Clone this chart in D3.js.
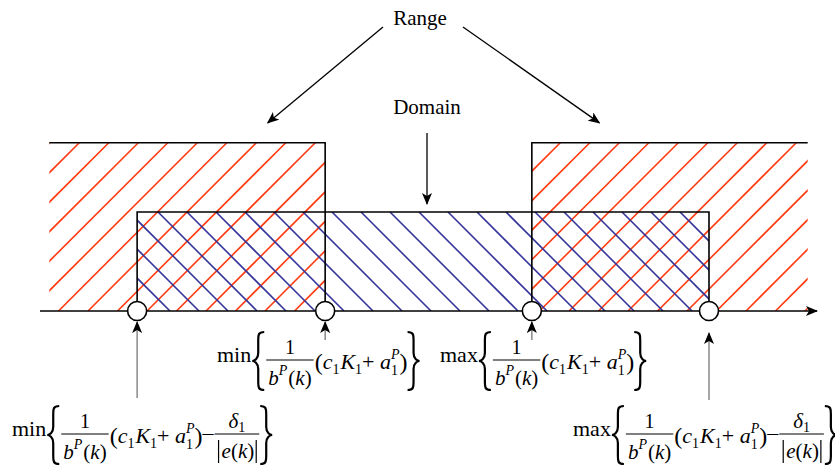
<!DOCTYPE html>
<html>
<head>
<meta charset="utf-8">
<script src="https://cdn.jsdelivr.net/npm/d3@7"></script>
<style>
body { margin: 0; background: #fff; }
svg { display: block; font-family: "Liberation Serif", "Times New Roman", serif; }
</style>
</head>
<body>
<div id="chart"></div>
<script>
// positions along the axis (axis runs 0..100)
var bounds = [12.5, 36.7, 63.3, 86.1];      // the four circled end points
var rangeLeft = [1.2, 36.7];
var rangeRight = [63.3, 98.8];
var domainBox = [12.5, 86.1];
// heights (axis = 0, domain box top = 1, range boxes top = 1.7)
var domainTop = 1;
var rangeTop = 1.7;
var titles = ["Range", "Domain"];
var ops = ["min", "min", "max", "max"];
var withDelta = [true, false, false, true];

function init(){
    var w = 835, h = 467;
    var x = d3.scaleLinear().domain([0, 100]).range([40, 817]);
    var y = d3.scaleLinear().domain([0, 1]).range([311, 212]);

    var svg = d3.select("#chart").append("svg")
        .attr("width", w).attr("height", h);

    var defs = svg.append("defs");
    defs.append("marker").attr("id", "head")
        .attr("viewBox", "0 0 12 10").attr("refX", 11).attr("refY", 5)
        .attr("markerWidth", 12).attr("markerHeight", 10)
        .attr("markerUnits", "userSpaceOnUse").attr("orient", "auto")
        .append("path").attr("d", "M0,0 L12,5 L0,10 L3,5 Z").attr("fill", "#000");

    // hatch one box, clipped
    function hatch(id, x0, x1, yTop, color, rising, phase, step){
        var px0 = x(x0), px1 = x(x1), pt = y(yTop), pb = y(0);
        defs.append("clipPath").attr("id", id).append("rect")
            .attr("x", px0).attr("y", pt).attr("width", px1 - px0).attr("height", pb - pt);
        var lo, hi;
        if (rising) { lo = px0 + pt; hi = px1 + pb; }
        else { lo = px0 - pb; hi = px1 - pt; }
        var k0 = Math.floor((lo - phase) / step);
        var cs = d3.range(k0, Math.ceil((hi - phase) / step) + 1).map(function(k){ return phase + k * step; });
        svg.append("g").attr("clip-path", "url(#" + id + ")")
            .selectAll("line").data(cs).enter().append("line")
            .attr("x1", function(c){ return rising ? c - pb : c + pb; })
            .attr("y1", pb)
            .attr("x2", function(c){ return rising ? c - pt : c + pt; })
            .attr("y2", pt)
            .attr("stroke", color).attr("stroke-width", 1.6);
    }

    hatch("cl1", rangeLeft[0], rangeLeft[1], rangeTop, "#ff3a10", true, 222, 29.5);
    hatch("cl2", rangeRight[0], rangeRight[1], rangeTop, "#ff3a10", true, 703, 29.5);
    hatch("cl3", domainBox[0], domainBox[1], domainTop, "#34349a", false, -54, 29);

    var ink = svg.append("g").attr("stroke", "#000").attr("stroke-width", 1.6).attr("fill", "none");
    // left range box (open on the left)
    ink.append("polyline").attr("points", [[x(rangeLeft[0]), y(rangeTop)], [x(rangeLeft[1]), y(rangeTop)], [x(rangeLeft[1]), y(0)]].join(" "));
    // right range box (open on the right)
    ink.append("polyline").attr("points", [[x(rangeRight[0]), y(0)], [x(rangeRight[0]), y(rangeTop)], [x(rangeRight[1]), y(rangeTop)]].join(" "));
    // domain box
    ink.append("polyline").attr("points", [[x(domainBox[0]), y(0)], [x(domainBox[0]), y(domainTop)], [x(domainBox[1]), y(domainTop)], [x(domainBox[1]), y(0)]].join(" "));
    // axis
    ink.append("line").attr("x1", x(0)).attr("x2", x(100)).attr("y1", y(0)).attr("y2", y(0))
        .attr("marker-end", "url(#head)");

    svg.selectAll("circle").data(bounds).enter().append("circle")
        .attr("cx", function(d){ return x(d); }).attr("cy", y(0)).attr("r", 9.5)
        .attr("fill", "#fff").attr("stroke", "#000").attr("stroke-width", 1.6);

    // titles and their arrows
    svg.append("text").attr("x", 420).attr("y", 25).attr("text-anchor", "middle")
        .attr("font-size", 21).text(titles[0]);
    svg.append("text").attr("x", 427).attr("y", 114).attr("text-anchor", "middle")
        .attr("font-size", 21).text(titles[1]);
    var arr = svg.append("g").attr("stroke", "#000").attr("stroke-width", 1.3);
    arr.append("line").attr("x1", 383).attr("y1", 27).attr("x2", x(29.3)).attr("y2", y(1.9)).attr("marker-end", "url(#head)");
    arr.append("line").attr("x1", 463).attr("y1", 27).attr("x2", x(72)).attr("y2", y(1.9)).attr("marker-end", "url(#head)");
    arr.append("line").attr("x1", 427).attr("y1", 133).attr("x2", 427).attr("y2", y(domainTop) - 8).attr("marker-end", "url(#head)");

    // arrows from the formulas up to the circles
    var fromY = [398, 340, 340, 400];
    var toY = [322, 322, 322, 333];
    svg.selectAll(".up").data(bounds).enter().append("line").attr("class", "up")
        .attr("x1", function(d){ return x(d); }).attr("x2", function(d){ return x(d); })
        .attr("y1", function(d, i){ return fromY[i]; }).attr("y2", function(d, i){ return toY[i]; })
        .attr("stroke", "#888").attr("stroke-width", 1.5).attr("marker-end", "url(#head)");

    // formulas
    function put(g, px, py, s, size, italic){
        var t = g.append("text").attr("x", px).attr("y", py).attr("font-size", size)
            .attr("font-style", italic ? "italic" : null).text(s);
        return t.node().getComputedTextLength();
    }
    function brace(g, px, yc, hh, left){
        var bw = 6, t = yc - hh / 2, b = yc + hh / 2, s = left ? 1 : -1;
        var xo = left ? px + bw * 2 : px, xm = xo - s * bw, xt = xo - s * bw * 2;
        var d = "M" + xo + "," + t +
            " C" + xm + "," + t + " " + xm + "," + (t + 3) + " " + xm + "," + (t + 8) +
            " L" + xm + "," + (yc - 8) +
            " C" + xm + "," + (yc - 2) + " " + (xt + s * 2) + "," + yc + " " + xt + "," + yc +
            " C" + (xt + s * 2) + "," + yc + " " + xm + "," + (yc + 2) + " " + xm + "," + (yc + 8) +
            " L" + xm + "," + (b - 8) +
            " C" + xm + "," + (b - 3) + " " + xm + "," + b + " " + xo + "," + b;
        g.append("path").attr("d", d).attr("fill", "none").attr("stroke", "#000").attr("stroke-width", 2.2);
        return bw * 2 + 2;
    }
    function formula(op, x0, yb, delta){
        var g = svg.append("g").attr("fill", "#000");
        var cx = x0, big = 22, sm = 14;
        cx += put(g, cx, yb + 2, op, big, false) + 1;
        cx += brace(g, cx, yb + 1, 58, true);
        // 1 / b^P(k)
        var dx = cx + 2;
        dx += put(g, dx, yb + 25, "b", 21, true);
        dx += put(g, dx, yb + 15, "P", sm, true) + 1;
        dx += put(g, dx, yb + 25, "(", 21, false);
        dx += put(g, dx, yb + 25, "k", 21, true);
        dx += put(g, dx, yb + 25, ")", 21, false);
        var bw = dx - cx + 2;
        g.append("line").attr("x1", cx).attr("x2", cx + bw).attr("y1", yb).attr("y2", yb)
            .attr("stroke", "#000").attr("stroke-width", 1.2);
        g.append("text").attr("x", cx + bw / 2).attr("y", yb - 6).attr("font-size", 20)
            .attr("text-anchor", "middle").text("1");
        cx += bw + 1;
        // (c1 K1 + a1^P)
        var py = yb + 9;
        cx += put(g, cx, py + 1, "(", 24, false);
        cx += put(g, cx, py, "c", big, true);
        cx += put(g, cx, py + 5, "1", sm, false) + 1;
        cx += put(g, cx, py, "K", big, true);
        cx += put(g, cx, py + 5, "1", sm, false);
        cx += put(g, cx, py, "+\u00a0", big, false);
        cx += put(g, cx, py, "a", big, true);
        var w1 = put(g, cx, py - 10, "P", sm, true);
        var w2 = put(g, cx, py + 6, "1", sm, false);
        cx += Math.max(w1, w2);
        cx += put(g, cx, py + 1, ")", 24, false);
        if (delta) {
            cx += put(g, cx, yb + 6, "\u2013", big, false);
            var f2 = cx + 1;
            var nx = f2 + 14;
            nx += put(g, nx, yb - 6, "\u03b4", 21, true);
            put(g, nx, yb - 2, "1", sm, false);
            var ex = f2 + 4;
            g.append("line").attr("x1", ex).attr("x2", ex).attr("y1", yb + 6).attr("y2", yb + 29)
                .attr("stroke", "#000").attr("stroke-width", 1.2);
            ex += 3;
            ex += put(g, ex, yb + 24, "e", 21, true);
            ex += put(g, ex, yb + 24, "(", 21, false);
            ex += put(g, ex, yb + 24, "k", 21, true);
            ex += put(g, ex, yb + 24, ")", 21, false) + 2;
            g.append("line").attr("x1", ex).attr("x2", ex).attr("y1", yb + 6).attr("y2", yb + 29)
                .attr("stroke", "#000").attr("stroke-width", 1.2);
            var bw2 = ex - f2 + 3;
            g.append("line").attr("x1", f2).attr("x2", f2 + bw2).attr("y1", yb).attr("y2", yb)
                .attr("stroke", "#000").attr("stroke-width", 1.2);
            cx = f2 + bw2 + 1;
        }
        brace(g, cx, yb + 1, 58, false);
    }

    var fx0 = [12, 217, 440, 573];
    var fy = [434, 360, 360, 434];
    bounds.forEach(function(d, i){ formula(ops[i], fx0[i], fy[i], withDelta[i]); });
}

window.onload = init;
</script>
</body>
</html>
